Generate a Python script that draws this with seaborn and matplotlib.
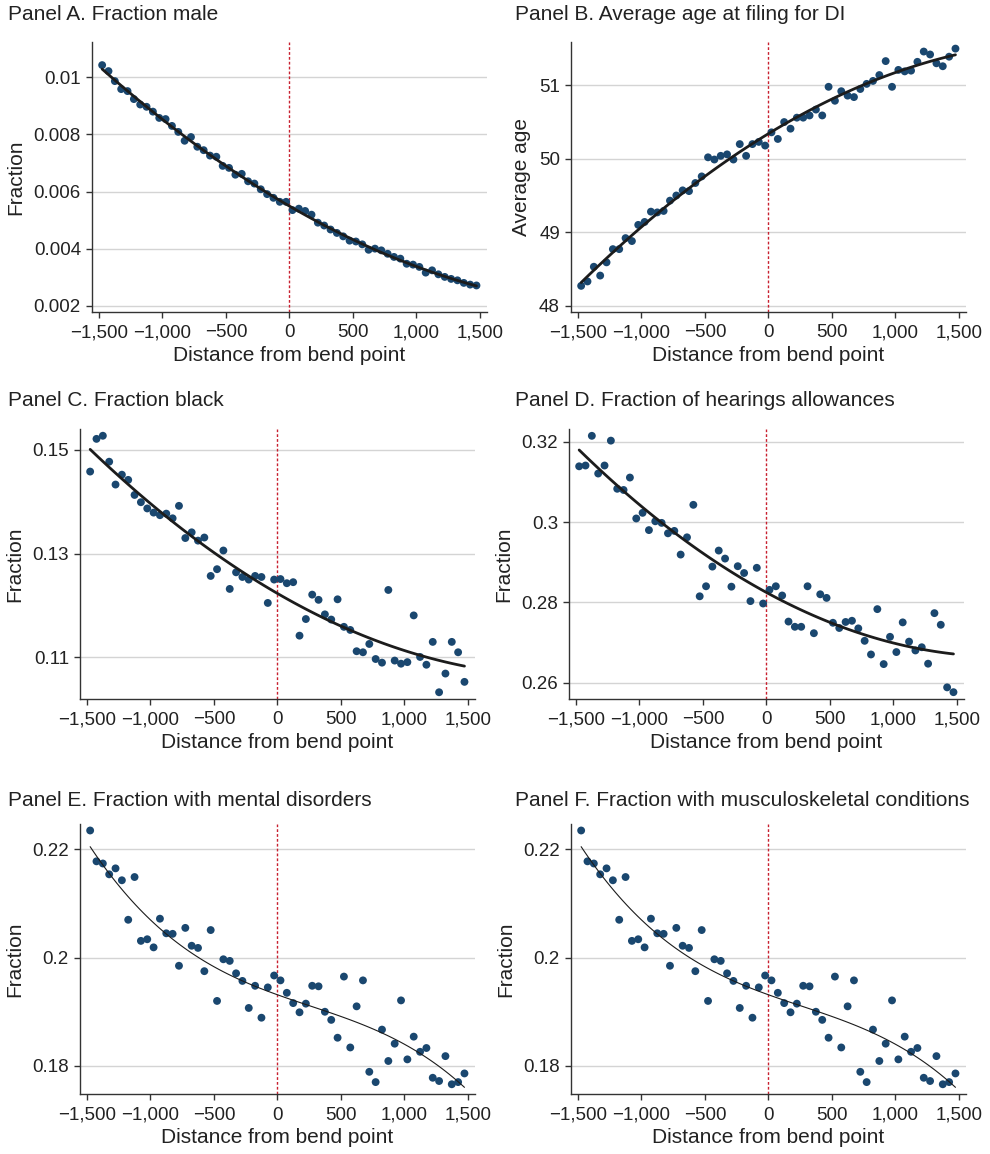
import numpy as np
import pandas as pd
import matplotlib
matplotlib.use("Agg")
import matplotlib.pyplot as plt
import seaborn as sns

# Bin midpoints: distance from the bend point, 50-unit bins
distance = np.arange(-1475, 1500, 50)

frac_male = [
    0.01043, 0.01022, 0.00987, 0.00959, 0.00952, 0.00924, 0.00905, 0.00897, 0.00880, 0.00858,
    0.00854, 0.00830, 0.00809, 0.00778, 0.00791, 0.00757, 0.00745, 0.00726, 0.00722, 0.00690,
    0.00683, 0.00659, 0.00662, 0.00636, 0.00628, 0.00608, 0.00591, 0.00578, 0.00564, 0.00564,
    0.00535, 0.00540, 0.00532, 0.00519, 0.00491, 0.00481, 0.00467, 0.00455, 0.00443, 0.00428,
    0.00425, 0.00415, 0.00396, 0.00400, 0.00394, 0.00382, 0.00371, 0.00365, 0.00347, 0.00344,
    0.00336, 0.00316, 0.00324, 0.00310, 0.00301, 0.00294, 0.00289, 0.00280, 0.00274, 0.00271,
]

avg_age = [
    48.27, 48.33, 48.53, 48.41, 48.59, 48.77, 48.77, 48.92, 48.88, 49.10,
    49.14, 49.28, 49.27, 49.29, 49.43, 49.50, 49.57, 49.56, 49.67, 49.76,
    50.02, 49.99, 50.04, 50.06, 49.99, 50.20, 50.04, 50.20, 50.23, 50.18,
    50.36, 50.27, 50.50, 50.41, 50.56, 50.56, 50.59, 50.67, 50.59, 50.98,
    50.79, 50.92, 50.86, 50.84, 50.95, 51.02, 51.06, 51.14, 51.33, 50.98,
    51.21, 51.19, 51.20, 51.32, 51.46, 51.42, 51.30, 51.26, 51.39, 51.50,
]

frac_black = [
    0.1458, 0.1521, 0.1527, 0.1477, 0.1433, 0.1452, 0.1442, 0.1413, 0.1399, 0.1387,
    0.1379, 0.1374, 0.1377, 0.1368, 0.1392, 0.1330, 0.1341, 0.1325, 0.1331, 0.1257,
    0.1270, 0.1306, 0.1232, 0.1264, 0.1255, 0.1250, 0.1257, 0.1255, 0.1205, 0.1250,
    0.1251, 0.1243, 0.1245, 0.1142, 0.1174, 0.1221, 0.1211, 0.1183, 0.1173, 0.1212,
    0.1159, 0.1153, 0.1112, 0.1110, 0.1126, 0.1097, 0.1090, 0.1230, 0.1094, 0.1088,
    0.1091, 0.1181, 0.1101, 0.1086, 0.1130, 0.1033, 0.1069, 0.1130, 0.1110, 0.1053,
]

frac_allowed = [
    0.3139, 0.3141, 0.3215, 0.3121, 0.3141, 0.3203, 0.3083, 0.3080, 0.3111, 0.3009,
    0.3023, 0.2980, 0.3002, 0.2998, 0.2972, 0.2978, 0.2919, 0.2962, 0.3043, 0.2815,
    0.2840, 0.2889, 0.2929, 0.2909, 0.2839, 0.2890, 0.2873, 0.2803, 0.2886, 0.2797,
    0.2831, 0.2840, 0.2817, 0.2752, 0.2739, 0.2739, 0.2840, 0.2723, 0.2820, 0.2811,
    0.2749, 0.2736, 0.2751, 0.2754, 0.2735, 0.2704, 0.2670, 0.2783, 0.2646, 0.2714,
    0.2676, 0.2750, 0.2702, 0.2680, 0.2688, 0.2647, 0.2773, 0.2744, 0.2588, 0.2576,
]

frac_mental = [
    0.2235, 0.2178, 0.2174, 0.2154, 0.2165, 0.2143, 0.2070, 0.2149, 0.2031, 0.2034,
    0.2019, 0.2072, 0.2045, 0.2044, 0.1985, 0.2055, 0.2022, 0.2018, 0.1975, 0.2051,
    0.1920, 0.1997, 0.1994, 0.1971, 0.1957, 0.1907, 0.1948, 0.1889, 0.1945, 0.1967,
    0.1958, 0.1935, 0.1916, 0.1899, 0.1915, 0.1948, 0.1947, 0.1900, 0.1885, 0.1852,
    0.1965, 0.1834, 0.1910, 0.1958, 0.1789, 0.1770, 0.1867, 0.1809, 0.1841, 0.1921,
    0.1812, 0.1854, 0.1826, 0.1833, 0.1778, 0.1772, 0.1818, 0.1766, 0.1770, 0.1786,
]

frac_musculo = list(frac_mental)

x_ticks = [-1500, -1000, -500, 0, 500, 1000, 1500]
x_tick_labels = ["\u22121,500", "\u22121,000", "\u2212500", "0", "500", "1,000", "1,500"]

sns.set_style("ticks")
plt.rcParams["font.family"] = ["Liberation Sans", "DejaVu Sans"]

W, H = 990, 1154
fig = plt.figure(figsize=(W / 100, H / 100), dpi=100)

DOT = "#1a476f"
RED = "#c8202f"

panels = [
    # title, y values, y label, yticks, ytick labels, ylim, fit order, fit width, box (l, r, t, b), title pos
    ("Panel A. Fraction male", frac_male, "Fraction",
     [0.002, 0.004, 0.006, 0.008, 0.01], ["0.002", "0.004", "0.006", "0.008", "0.01"],
     (0.00178, 0.01124), 2, 2.0, (92, 487, 42, 312), (8, 15)),
    ("Panel B. Average age at filing for DI", avg_age, "Average age",
     [48, 49, 50, 51], ["48", "49", "50", "51"],
     (47.914, 51.59), 2, 2.0, (571, 966, 42, 312), (515, 15)),
    ("Panel C. Fraction black", frac_black, "Fraction",
     [0.11, 0.13, 0.15], ["0.11", "0.13", "0.15"],
     (0.1020, 0.1540), 2, 2.0, (80, 475, 429, 699), (8, 401)),
    ("Panel D. Fraction of hearings allowances", frac_allowed, "Fraction",
     [0.26, 0.28, 0.30, 0.32], ["0.26", "0.28", "0.3", "0.32"],
     (0.2559, 0.3232), 2, 2.0, (569, 964, 429, 699), (515, 401)),
    ("Panel E. Fraction with mental disorders", frac_mental, "Fraction",
     [0.18, 0.20, 0.22], ["0.18", "0.2", "0.22"],
     (0.1748, 0.2247), 3, 0.8, (80, 475, 824, 1094), (8, 800)),
    ("Panel F. Fraction with musculoskeletal conditions", frac_musculo, "Fraction",
     [0.18, 0.20, 0.22], ["0.18", "0.2", "0.22"],
     (0.1748, 0.2247), 3, 0.8, (571, 966, 824, 1094), (515, 800)),
]

for title, yvals, ylabel, yticks, ytlabels, ylim, order, fit_lw, box, tpos in panels:
    l, r, t, b = box
    ax = fig.add_axes([l / W, 1 - b / H, (r - l) / W, (b - t) / H])
    df = pd.DataFrame({"distance": distance, "value": yvals})

    for yt in yticks:
        ax.axhline(yt, color="#d4d4d4", lw=1.0, zorder=0)
    ax.axvline(0, color=RED, lw=1.0, ls=(0, (2.0, 1.5)), zorder=1)

    sns.scatterplot(data=df, x="distance", y="value", ax=ax, color=DOT,
                    s=32, edgecolor="none", linewidth=0, zorder=3)
    sns.regplot(data=df, x="distance", y="value", ax=ax, order=order, ci=None,
                scatter=False, truncate=True,
                line_kws={"color": "#1c1c1c", "lw": fit_lw, "zorder": 4})

    ax.set_xlim(-1555, 1558)
    ax.set_ylim(*ylim)
    ax.set_xticks(x_ticks)
    ax.set_xticklabels(x_tick_labels)
    ax.set_yticks(yticks)
    ax.set_yticklabels(ytlabels)
    ax.tick_params(axis="both", direction="out", length=4, width=1.0,
                   color="#333333", labelsize=13.5, labelcolor="#222222")
    ax.tick_params(axis="x", pad=5)
    ax.tick_params(axis="y", pad=4)
    for side in ("top", "right"):
        ax.spines[side].set_visible(False)
    for side in ("left", "bottom"):
        ax.spines[side].set_color("#333333")
        ax.spines[side].set_linewidth(1.0)
    ax.set_xlabel("Distance from bend point", fontsize=15, color="#222222", labelpad=3)
    ax.set_ylabel(ylabel, fontsize=15, color="#222222", labelpad=6)

    fig.text(tpos[0] / W, 1 - tpos[1] / H, title, fontsize=15, color="#222222",
             ha="left", va="center")

fig.savefig("out.png", dpi=100, facecolor="white")
